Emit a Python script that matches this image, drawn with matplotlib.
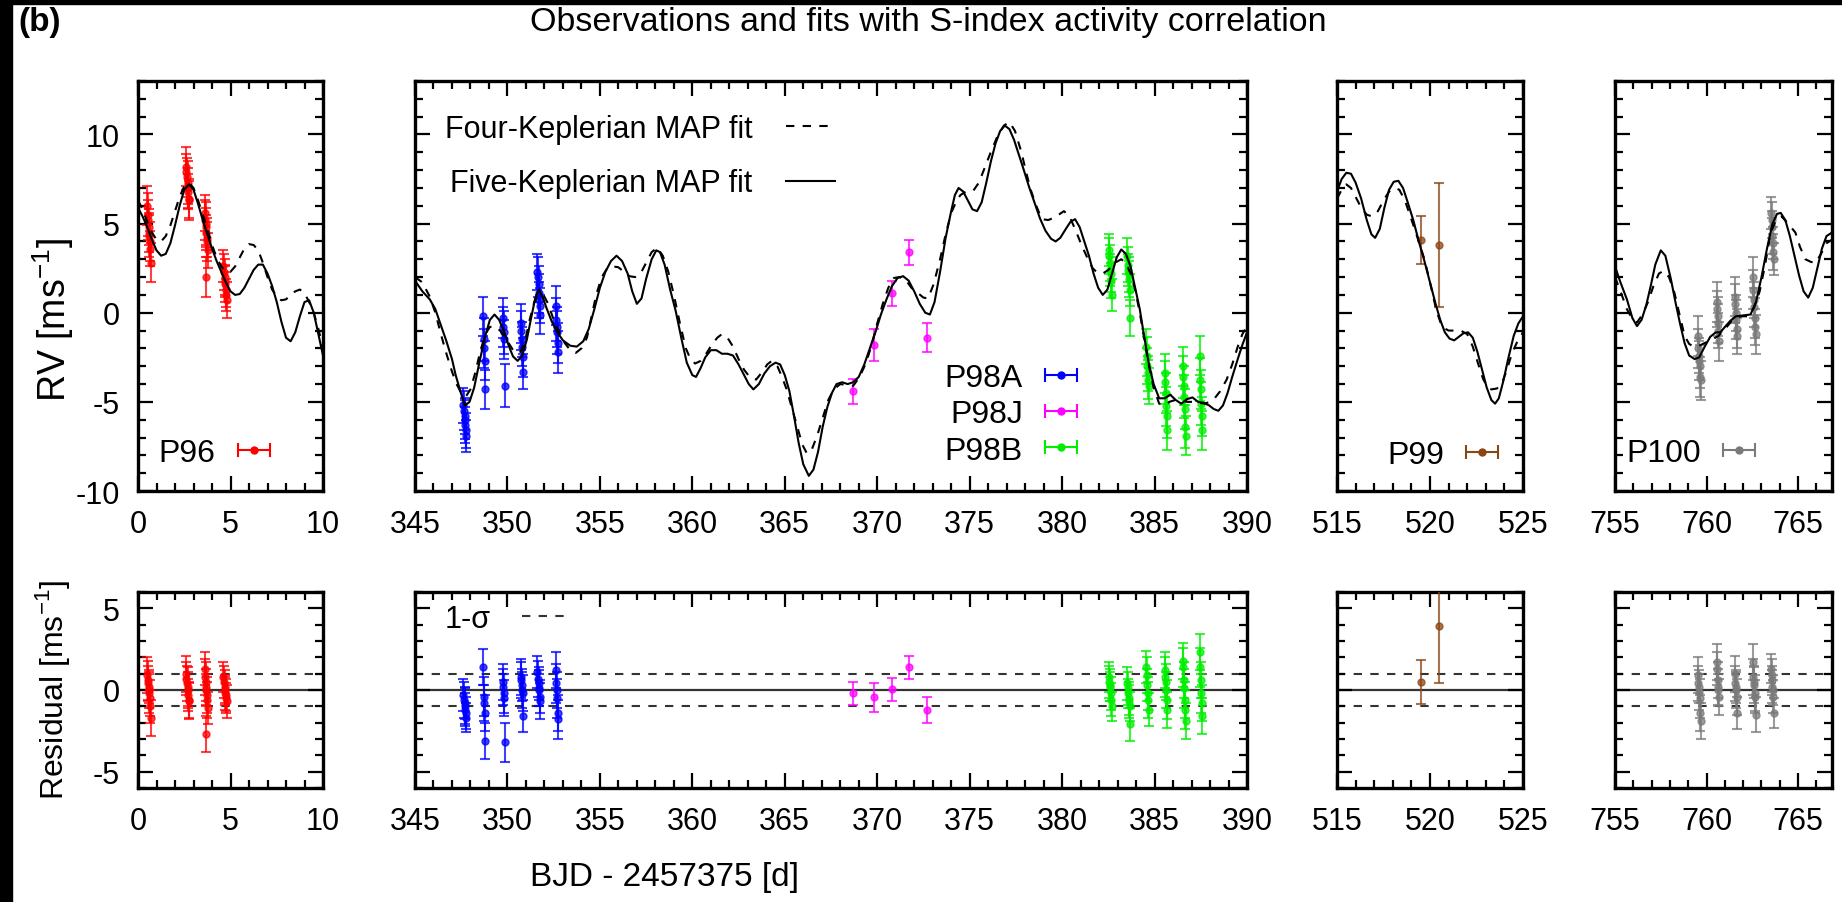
import numpy as np
import matplotlib.pyplot as plt
from matplotlib.ticker import MultipleLocator

# ---- data ----
# P96 (red)
p96_t = [0.50, 0.52, 0.55, 0.57, 0.60, 0.62, 0.64, 0.66, 0.68,
         2.60, 2.62, 2.65, 2.68, 2.70, 2.72, 2.75, 2.78,
         3.62, 3.64, 3.66, 3.68, 3.70, 3.72, 3.74, 3.76, 3.70,
         4.62, 4.65, 4.68, 4.70, 4.72, 4.75, 4.78, 4.80]
p96_rv = [6.0, 5.5, 5.2, 4.8, 4.5, 4.3, 4.0, 3.6, 2.8,
          8.2, 7.9, 7.6, 7.3, 7.0, 6.8, 6.4, 6.3,
          5.6, 5.2, 5.0, 4.8, 4.5, 4.2, 4.0, 3.5, 2.0,
          2.6, 2.3, 2.0, 1.8, 1.6, 1.3, 1.0, 0.7]
p96_err = [1.1, 1.2, 1.1, 1.0, 1.1, 1.2, 1.1, 1.0, 1.1,
           1.1, 1.0, 1.1, 1.2, 1.1, 1.0, 1.1, 1.1,
           1.0, 1.1, 1.2, 1.1, 1.0, 1.1, 1.1, 1.0, 1.1,
           0.9, 1.0, 1.0, 0.9, 1.0, 1.0, 0.9, 1.0]
p96_res = [0.9, 0.6, 0.4, 0.2, 0.0, -0.2, -0.5, -1.0, -1.7,
           1.0, 0.7, 0.4, 0.2, 0.0, -0.3, -0.6, -0.7,
           1.3, 0.8, 0.5, 0.2, 0.0, -0.3, -0.6, -1.1, -2.7,
           0.8, 0.5, 0.2, 0.0, -0.2, -0.3, -0.5, -0.7]

# P98A (blue)
p98a_t = [347.62, 347.65, 347.68, 347.70, 347.72, 347.75, 347.78,
          348.70, 348.72, 348.75, 348.78, 348.80,
          349.75, 349.78, 349.80, 349.82, 349.85,
          350.72, 350.75, 350.78, 350.80, 350.82, 350.85,
          351.62, 351.65, 351.68, 351.70, 351.72, 351.75, 351.78,
          352.62, 352.65, 352.68, 352.70, 352.72, 352.75]
p98a_rv = [-5.2, -5.5, -5.8, -6.0, -6.3, -6.6, -6.9,
           -0.2, -1.5, -2.0, -2.7, -4.3,
           -0.3, -0.8, -1.1, -1.5, -4.1,
           -0.6, -1.0, -1.5, -1.9, -2.5, -3.3,
           2.3, 2.0, 1.6, 1.1, 0.7, 0.4, -0.1,
           0.4, -0.4, -0.8, -1.1, -1.7, -2.2]
p98a_err = [1.0, 1.1, 1.0, 1.1, 1.0, 1.0, 0.9,
            1.1, 1.2, 1.1, 1.1, 1.1,
            1.1, 1.1, 1.2, 1.1, 1.2,
            1.1, 1.1, 1.0, 1.1, 1.1, 1.0,
            1.0, 1.1, 1.0, 1.1, 1.0, 1.0, 1.1,
            1.1, 1.2, 1.1, 1.2, 1.1, 1.2]
p98a_res = [-0.3, -0.6, -0.8, -1.0, -1.2, -1.4, -1.7,
            1.4, -0.4, -0.8, -1.4, -3.1,
            0.5, 0.2, -0.2, -0.5, -3.2,
            0.8, 0.6, 0.3, 0.0, -0.2, -1.6,
            1.1, 0.7, 0.4, 0.1, 0.0, -0.4, -0.7,
            1.2, 0.4, 0.0, -0.5, -1.4, -1.8]

# P98J (magenta)
p98j_t = [368.7, 369.8, 370.8, 371.7, 372.7]
p98j_rv = [-4.4, -1.8, 1.1, 3.4, -1.4]
p98j_err = [0.7, 0.9, 0.7, 0.7, 0.8]
p98j_res = [-0.2, -0.45, 0.05, 1.4, -1.2]

# P98B (green)
p98b_t = [382.52, 382.55, 382.58, 382.60, 382.62, 382.65, 382.68,
          383.52, 383.55, 383.58, 383.60, 383.62, 383.65, 383.68,
          384.55, 384.58, 384.60, 384.62, 384.65, 384.68,
          385.55, 385.58, 385.60, 385.62, 385.65, 385.68,
          386.52, 386.55, 386.58, 386.60, 386.62, 386.65, 386.68,
          387.45, 387.48, 387.50, 387.52, 387.55, 387.58]
p98b_rv = [3.5, 3.2, 2.8, 2.4, 2.15, 1.8, 1.0,
           3.2, 2.7, 2.4, 2.15, 1.9, 1.3, -0.3,
           -1.9, -2.45, -3.0, -3.4, -3.75, -4.1,
           -3.4, -3.9, -4.5, -5.25, -5.8, -6.6,
           -3.0, -3.6, -4.1, -4.7, -5.4, -6.4, -6.9,
           -2.4, -3.75, -4.3, -5.1, -5.8, -6.6]
p98b_err = [0.9, 1.0, 1.0, 0.9, 1.0, 1.0, 0.9,
            1.0, 1.0, 0.9, 1.0, 1.0, 0.9, 1.0,
            1.0, 1.1, 1.0, 1.0, 1.1, 1.0,
            1.1, 1.2, 1.1, 1.1, 1.2, 1.1,
            1.1, 1.2, 1.1, 1.2, 1.1, 1.2, 1.1,
            1.1, 1.2, 1.1, 1.2, 1.1, 1.1]
p98b_res = [0.8, 0.5, 0.3, 0.2, -0.2, -0.6, -1.0,
            0.4, 0.1, -0.2, -0.5, -0.7, -1.0, -2.1,
            1.4, 0.9, 0.3, -0.2, -0.6, -1.2,
            1.2, 0.8, 0.5, 0.0, -0.6, -1.2,
            1.8, 1.4, 0.6, 0.1, -0.6, -1.2, -1.9,
            2.3, 1.4, 0.6, -0.2, -0.8, -1.6]

# P99 (brown)
p99_t = [519.5, 520.5]
p99_rv = [4.1, 3.8]
p99_err = [1.35, 3.5]
p99_res = [0.5, 3.9]

# P100 (grey)
p100_t = [759.52, 759.55, 759.58, 759.60, 759.62, 759.65, 759.68,
          760.55, 760.58, 760.60, 760.62, 760.65, 760.68,
          761.55, 761.58, 761.60, 761.62, 761.65, 761.68,
          762.52, 762.55, 762.58, 762.60, 762.62, 762.65, 762.68,
          763.52, 763.55, 763.58, 763.60, 763.62, 763.65, 763.68]
p100_rv = [-1.3, -2.0, -2.4, -2.7, -3.0, -3.6, -3.8,
           0.6, 0.2, -0.2, -0.6, -1.0, -1.6,
           0.9, 0.5, 0.0, -0.4, -0.9, -1.3,
           2.0, 1.3, 0.7, 0.3, -0.3, -0.8, -1.2,
           5.6, 5.2, 4.8, 4.3, 3.9, 3.4, 3.0]
p100_err = [1.1, 1.1, 1.0, 1.1, 1.2, 1.1, 1.1,
            1.1, 1.0, 1.1, 1.1, 1.0, 1.1,
            1.1, 1.1, 1.0, 1.1, 1.1, 1.0,
            1.1, 1.1, 1.0, 1.1, 1.1, 1.0, 1.1,
            0.9, 1.0, 0.9, 1.0, 0.9, 1.0, 0.9]
p100_res = [0.9, 0.4, 0.2, -0.1, -0.5, -1.4, -1.9,
            1.7, 1.3, 0.6, 0.2, 0.0, -0.4,
            1.0, 0.4, 0.2, 0.0, -0.4, -1.4,
            1.7, 0.8, 0.5, 0.3, -0.2, -0.4, -1.5,
            1.3, 0.9, 0.6, 0.2, 0.0, -0.4, -1.4]

# model curves (t, RV)
five_kep_p1 = [(0.0, 5.9), (0.25, 5.4), (0.5, 4.8), (0.75, 4.1), (1.0, 3.5), (1.25, 3.2), (1.5, 3.3),
               (1.75, 3.9), (2.0, 4.9), (2.25, 6.0), (2.5, 6.9), (2.75, 7.2), (3.0, 6.9), (3.25, 6.1),
               (3.5, 5.2), (3.75, 4.4), (4.0, 3.6), (4.25, 2.9), (4.5, 2.3), (4.75, 1.7), (5.0, 1.2),
               (5.25, 1.0), (5.5, 1.05), (5.75, 1.4), (6.0, 1.9), (6.25, 2.4), (6.5, 2.7), (6.75, 2.7),
               (7.0, 2.2), (7.25, 1.5), (7.5, 0.6), (7.75, -0.5), (8.0, -1.4), (8.25, -1.6), (8.5, -1.1),
               (8.75, -0.2), (9.0, 0.6), (9.25, 0.7), (9.5, 0.0), (9.75, -1.2), (10.0, -2.4)]
four_kep_p1 = [(0.0, 6.3), (0.25, 5.8), (0.5, 5.1), (0.75, 4.5), (1.0, 4.1), (1.25, 4.0), (1.5, 4.3),
               (1.75, 4.9), (2.0, 5.7), (2.25, 6.5), (2.5, 7.1), (2.75, 7.3), (3.0, 7.0), (3.25, 6.3),
               (3.5, 5.5), (3.75, 4.7), (4.0, 3.8), (4.25, 3.1), (4.5, 2.6), (4.75, 2.3), (5.0, 2.3),
               (5.25, 2.6), (5.5, 3.1), (5.75, 3.6), (6.0, 3.85), (6.25, 3.8), (6.5, 3.5), (6.75, 2.8),
               (7.0, 2.0), (7.25, 1.3), (7.5, 0.9), (7.75, 0.7), (8.0, 0.75), (8.25, 1.0), (8.5, 1.2),
               (8.75, 1.3), (9.0, 1.1), (9.25, 0.6), (9.5, 0.0), (9.75, -0.9), (10.0, -2.0)]

five_kep_p2 = [(345.0, 1.8), (345.4, 1.2), (345.8, 0.75), (346.1, 0.2), (346.4, -0.7), (346.7, -1.6),
               (347.0, -2.6), (347.2, -3.5), (347.45, -4.4), (347.7, -5.2), (347.95, -5.0), (348.2, -4.2),
               (348.5, -2.7), (348.8, -1.3), (349.05, -0.4), (349.3, -0.1), (349.55, -0.4), (349.8, -1.0),
               (350.05, -1.8), (350.3, -2.45), (350.55, -2.7), (350.8, -2.4), (351.05, -1.5), (351.3, -0.2),
               (351.5, 0.8), (351.7, 1.3), (351.9, 0.9), (352.1, 0.3), (352.4, -0.5), (352.7, -1.1),
               (353.0, -1.55), (353.4, -1.85), (353.75, -1.9), (354.1, -1.6), (354.4, -0.9), (354.7, 0.2),
               (355.0, 1.4), (355.3, 2.3), (355.6, 2.9), (355.9, 3.2), (356.2, 2.9), (356.5, 2.2),
               (356.75, 1.2), (357.0, 0.5), (357.25, 0.8), (357.5, 1.9), (357.8, 3.0), (358.05, 3.5),
               (358.25, 3.4), (358.5, 2.7), (358.8, 1.3), (359.1, 0.1), (359.4, -1.4), (359.7, -2.8),
               (360.0, -3.5), (360.2, -3.6), (360.45, -3.1), (360.7, -2.5), (361.0, -2.1), (361.3, -2.1),
               (361.6, -2.3), (361.9, -2.3), (362.2, -2.4), (362.5, -2.9), (362.8, -3.5), (363.05, -4.0),
               (363.3, -4.3), (363.6, -4.0), (363.9, -3.4), (364.2, -3.0), (364.5, -2.8), (364.75, -2.9),
               (365.0, -3.5), (365.25, -4.4), (365.5, -5.8), (365.75, -7.3), (366.0, -8.5), (366.3, -9.15),
               (366.55, -8.8), (366.8, -7.8), (367.05, -6.4), (367.3, -5.3), (367.55, -4.5), (367.8, -4.0),
               (368.1, -3.9), (368.4, -4.0), (368.7, -3.9), (369.0, -3.6), (369.3, -2.9), (369.6, -2.0),
               (369.9, -1.1), (370.2, -0.1), (370.5, 0.75), (370.8, 1.5), (371.1, 1.95), (371.4, 2.05),
               (371.7, 1.8), (372.0, 1.2), (372.3, 0.5), (372.6, 0.0), (372.85, -0.1), (373.1, 0.6),
               (373.4, 2.3), (373.7, 4.2), (374.0, 5.7), (374.2, 6.6), (374.4, 7.0), (374.65, 6.8),
               (374.9, 6.3), (375.15, 5.8), (375.4, 5.7), (375.65, 6.2), (375.9, 7.3), (376.15, 8.5),
               (376.4, 9.5), (376.65, 10.2), (376.9, 10.5), (377.15, 10.3), (377.4, 9.7), (377.65, 8.9),
               (377.9, 8.1), (378.2, 7.1), (378.5, 6.2), (378.8, 5.3), (379.1, 4.6), (379.4, 4.15),
               (379.65, 4.0), (379.9, 4.2), (380.2, 4.7), (380.45, 5.1), (380.7, 5.25), (380.95, 4.8),
               (381.2, 4.0), (381.45, 3.2), (381.7, 2.2), (381.95, 1.4), (382.2, 1.0), (382.45, 1.3),
               (382.7, 2.2), (382.95, 3.1), (383.2, 3.55), (383.45, 3.3), (383.7, 2.6), (383.95, 1.4),
               (384.2, 0.2), (384.45, -1.4), (384.7, -2.9), (384.95, -4.0), (385.25, -4.8), (385.55, -4.8),
               (385.85, -4.6), (386.15, -4.9), (386.45, -5.1), (386.75, -4.85), (387.05, -4.75),
               (387.35, -5.0), (387.65, -5.05), (387.95, -5.2), (388.2, -5.4), (388.45, -5.5),
               (388.7, -5.2), (388.95, -4.5), (389.2, -3.6), (389.5, -2.6), (389.75, -1.8), (390.0, -1.1)]
four_kep_p2 = [(345.0, 2.0), (345.4, 1.7), (345.8, 0.9), (346.1, 0.0), (346.4, -1.2), (346.7, -2.3),
               (347.0, -3.3), (347.25, -4.0), (347.5, -4.5), (347.75, -4.7), (348.0, -4.3), (348.25, -3.4),
               (348.5, -2.3), (348.8, -1.2), (349.05, -0.8), (349.3, -0.75), (349.6, -1.0), (350.0, -1.6),
               (350.4, -2.25), (350.7, -2.2), (350.95, -1.6), (351.2, -0.4), (351.45, 0.6), (351.7, 1.0),
               (351.95, 1.0), (352.2, 0.5), (352.5, -0.4), (352.8, -1.1), (353.1, -1.7), (353.4, -2.1),
               (353.7, -2.25), (354.0, -2.0), (354.3, -1.4), (354.55, -0.2), (354.8, 1.0), (355.1, 2.0),
               (355.4, 2.5), (355.7, 2.6), (356.0, 2.55), (356.3, 2.3), (356.6, 2.05), (356.9, 2.0),
               (357.2, 2.2), (357.5, 2.8), (357.8, 3.4), (358.1, 3.65), (358.4, 3.2), (358.7, 2.3),
               (359.0, 1.0), (359.35, -0.7), (359.65, -2.0), (359.9, -2.6), (360.15, -2.85), (360.45, -2.7),
               (360.75, -2.3), (361.05, -1.8), (361.35, -1.4), (361.6, -1.2), (361.9, -1.4), (362.2, -1.9),
               (362.5, -2.6), (362.8, -3.2), (363.1, -3.6), (363.45, -3.75), (363.8, -3.3), (364.05, -2.9),
               (364.3, -2.7), (364.6, -3.0), (364.85, -3.6), (365.1, -4.3), (365.4, -5.4), (365.7, -6.5),
               (365.95, -7.4), (366.2, -7.9), (366.45, -7.7), (366.75, -6.9), (367.05, -5.9), (367.35, -4.9),
               (367.65, -4.3), (368.0, -4.0), (368.3, -4.05), (368.7, -4.1), (369.05, -3.6), (369.4, -2.8),
               (369.7, -1.8), (370.0, -0.6), (370.3, 0.5), (370.6, 1.4), (370.9, 1.95), (371.2, 2.0),
               (371.5, 1.9), (371.85, 1.4), (372.2, 1.1), (372.5, 0.85), (372.75, 0.8), (373.05, 1.6),
               (373.4, 3.0), (373.7, 4.4), (374.0, 5.6), (374.3, 6.3), (374.5, 6.6), (374.8, 6.8),
               (375.2, 6.85), (375.5, 7.3), (375.8, 8.1), (376.1, 8.9), (376.5, 9.9), (376.85, 10.5),
               (377.15, 10.7), (377.45, 10.2), (377.8, 9.0), (378.05, 7.9), (378.3, 6.9), (378.6, 6.0),
               (378.9, 5.25), (379.25, 5.2), (379.6, 5.35), (380.1, 5.7), (380.4, 5.4), (380.7, 4.7),
               (381.05, 3.8), (381.4, 3.0), (381.65, 2.5), (381.9, 2.25), (382.2, 2.2), (382.5, 2.4),
               (382.85, 2.8), (383.2, 3.0), (383.45, 2.8), (383.7, 2.2), (383.95, 1.3), (384.2, 0.0),
               (384.45, -1.5), (384.7, -3.0), (384.95, -4.2), (385.25, -5.1), (385.5, -5.2), (385.8, -5.0),
               (386.1, -4.9), (386.4, -4.9), (386.75, -5.0), (387.05, -5.0), (387.4, -5.05), (387.7, -5.1),
               (388.0, -5.0), (388.25, -4.8), (388.55, -4.4), (388.9, -3.75), (389.2, -2.9), (389.5, -1.9),
               (389.75, -1.2), (390.0, -0.75)]

five_kep_p3 = [(515.0, 6.8), (515.25, 7.5), (515.5, 7.85), (515.75, 7.8), (516.0, 7.3), (516.3, 6.4),
               (516.6, 5.2), (516.85, 4.4), (517.05, 4.2), (517.3, 4.7), (517.55, 5.9), (517.8, 6.9),
               (518.05, 7.35), (518.3, 7.4), (518.55, 7.0), (518.8, 6.2), (519.1, 5.2), (519.4, 4.0),
               (519.7, 2.9), (520.0, 1.7), (520.3, 0.5), (520.55, -0.4), (520.8, -1.1), (521.05, -1.45),
               (521.3, -1.55), (521.55, -1.35), (521.8, -1.15), (522.05, -1.1), (522.3, -1.4), (522.55, -2.2),
               (522.8, -3.2), (523.05, -4.2), (523.3, -4.9), (523.5, -5.1), (523.7, -4.8), (523.95, -3.8),
               (524.2, -2.6), (524.5, -1.3), (524.75, -0.6), (525.0, -0.2)]
four_kep_p3 = [(515.0, 6.4), (515.25, 6.9), (515.5, 7.2), (515.75, 7.0), (516.0, 6.5), (516.3, 5.9),
               (516.6, 5.5), (516.9, 5.4), (517.2, 5.7), (517.5, 6.3), (517.8, 6.8), (518.1, 7.0),
               (518.35, 6.9), (518.65, 6.3), (518.95, 5.4), (519.3, 4.3), (519.7, 3.0), (520.0, 1.7),
               (520.35, 0.1), (520.65, -0.8), (521.0, -1.0), (521.35, -1.0), (521.65, -1.0), (522.0, -1.2),
               (522.3, -1.9), (522.6, -2.9), (522.85, -3.7), (523.1, -4.2), (523.3, -4.3), (523.6, -4.25),
               (523.85, -4.0), (524.1, -3.3), (524.4, -2.3), (524.7, -1.6), (525.0, -1.1)]

five_kep_p4 = [(755.0, 2.6), (755.3, 1.7), (755.65, 0.75), (755.95, -0.3), (756.2, -0.75), (756.45, -0.4),
               (756.7, 0.4), (756.95, 1.5), (757.2, 2.7), (757.5, 3.5), (757.75, 3.2), (758.05, 1.9),
               (758.3, 0.6), (758.55, -0.6), (758.8, -1.7), (759.05, -2.4), (759.35, -2.6), (759.6, -2.5),
               (759.9, -1.9), (760.2, -1.35), (760.5, -1.1), (760.75, -1.1), (761.0, -0.8), (761.3, -0.45),
               (761.6, -0.2), (762.0, -0.15), (762.4, -0.1), (762.7, 0.6), (763.0, 2.0), (763.3, 3.6),
               (763.6, 5.0), (763.85, 5.55), (764.05, 5.6), (764.3, 5.2), (764.55, 4.3), (764.8, 3.2),
               (765.05, 2.1), (765.3, 1.2), (765.55, 0.85), (765.8, 1.4), (766.05, 2.5), (766.3, 3.6),
               (766.55, 4.3), (766.85, 4.5)]
four_kep_p4 = [(755.0, 2.0), (755.3, 1.2), (755.65, 0.2), (755.95, -0.35), (756.2, -0.55), (756.5, -0.1),
               (756.8, 0.6), (757.1, 1.5), (757.4, 2.2), (757.65, 2.35), (757.95, 2.0), (758.25, 1.1),
               (758.5, 0.0), (758.8, -1.3), (759.05, -1.75), (759.3, -1.9), (759.6, -1.85), (759.9, -1.7),
               (760.3, -1.5), (760.65, -1.3), (761.1, -0.8), (761.5, -0.3), (761.9, -0.2), (762.3, -0.2),
               (762.6, 0.3), (762.9, 1.2), (763.2, 2.7), (763.5, 4.5), (763.8, 5.2), (764.1, 5.4),
               (764.45, 5.0), (764.85, 4.5), (765.1, 3.7), (765.4, 3.0), (765.7, 2.85), (765.95, 2.8),
               (766.25, 3.3), (766.55, 3.9), (766.85, 4.1)]

# ---- figure ----
plt.rcParams['font.family'] = ['Liberation Sans', 'DejaVu Sans']
plt.rcParams['axes.unicode_minus'] = False
plt.rcParams['mathtext.fontset'] = 'custom'
plt.rcParams['mathtext.rm'] = 'Liberation Sans'

W, H = 1842, 903
fig = plt.figure(figsize=(W / 100, H / 100), dpi=100)

# black scan border on the left and top
fig.patches.append(plt.Rectangle((0, 0), 12 / W, 1, transform=fig.transFigure, color='black', zorder=0))
fig.patches.append(plt.Rectangle((0, 1 - 5 / H), 1, 5 / H, transform=fig.transFigure, color='black', zorder=0))


def add_px_axes(x0, x1, y0, y1):
    return fig.add_axes([x0 / W, 1 - y1 / H, (x1 - x0) / W, (y1 - y0) / H])


def style_axe(ax, show_ylabels):
    for s in ax.spines.values():
        s.set_linewidth(2.4)
    ax.xaxis.set_major_locator(MultipleLocator(5))
    ax.xaxis.set_minor_locator(MultipleLocator(1))
    ax.yaxis.set_major_locator(MultipleLocator(5))
    ax.yaxis.set_minor_locator(MultipleLocator(1))
    ax.tick_params(which='both', direction='in', top=True, right=True, labelsize=22, pad=13)
    ax.tick_params(which='major', length=11, width=1.6)
    ax.tick_params(which='minor', length=6, width=1.6)
    if not show_ylabels:
        ax.tick_params(labelleft=False)


columns = [(138, 323, (0, 10)), (415, 1247, (345, 390)),
           (1337, 1523, (515, 525)), (1615, 1832, (755, 766.85))]
top_axes, bot_axes = [], []
for i, (x0, x1, xl) in enumerate(columns):
    at = add_px_axes(x0, x1, 82, 492)
    ab = add_px_axes(x0, x1, 593, 789)
    at.set_xlim(xl)
    ab.set_xlim(xl)
    at.set_ylim(-10, 13)
    ab.set_ylim(-6, 6)
    style_axe(at, i == 0)
    style_axe(ab, i == 0)
    top_axes.append(at)
    bot_axes.append(ab)

# model curves
curves = [(five_kep_p1, four_kep_p1), (five_kep_p2, four_kep_p2),
          (five_kep_p3, four_kep_p3), (five_kep_p4, four_kep_p4)]
fit_lines = None
for ax, (five, four) in zip(top_axes, curves):
    f5 = np.array(five)
    f4 = np.array(four)
    l4, = ax.plot(f4[:, 0], f4[:, 1], color='black', lw=1.5, ls=(0, (4, 4)), zorder=4)
    l5, = ax.plot(f5[:, 0], f5[:, 1], color='black', lw=1.5, zorder=5)
    if fit_lines is None:
        fit_lines = (l4, l5)

# observations and residuals
sets = [
    ('P96', 0, p96_t, p96_rv, p96_err, p96_res, '#ff0000'),
    ('P98A', 1, p98a_t, p98a_rv, p98a_err, p98a_res, '#0000ff'),
    ('P98J', 1, p98j_t, p98j_rv, p98j_err, p98j_res, '#ff00ff'),
    ('P98B', 1, p98b_t, p98b_rv, p98b_err, p98b_res, '#00ee00'),
    ('P99', 2, p99_t, p99_rv, p99_err, p99_res, '#8b4513'),
    ('P100', 3, p100_t, p100_rv, p100_err, p100_res, '#7a7a7a'),
]
proxies = {}
for name, col, t, rv, err, res, c in sets:
    kw = dict(fmt='o', color=c, ms=5, elinewidth=1.5, capsize=3.5, capthick=1.5, alpha=0.75, zorder=3)
    top_axes[col].errorbar(t, rv, yerr=err, **kw)
    bot_axes[col].errorbar(t, res, yerr=err, **kw)
    proxies[name] = top_axes[col].errorbar([np.nan], [np.nan], xerr=[1], fmt='o', color=c, ms=5,
                                           elinewidth=1.5, capsize=5, capthick=1.5)

# residual reference lines
sigma_line = None
for ab in bot_axes:
    ab.axhline(0, color='#333333', lw=1.6, zorder=1)
    sigma_line = ab.axhline(1, color='#333333', lw=1.5, ls=(0, (4, 4)), zorder=1)
    ab.axhline(-1, color='#333333', lw=1.5, ls=(0, (4, 4)), zorder=1)

# legends
leg_kw = dict(frameon=False, markerfirst=False, borderpad=0, borderaxespad=0)
leg_fit = top_axes[1].legend(fit_lines, ['Four-Keplerian MAP fit', 'Five-Keplerian MAP fit'],
                             loc='upper left', bbox_to_anchor=(0.036, 0.92), handlelength=1.6,
                             handletextpad=1.1, labelspacing=0.8, fontsize=22, **leg_kw)
top_axes[1].add_artist(leg_fit)
top_axes[1].legend([proxies['P98A'], proxies['P98J'], proxies['P98B']], ['P98A', 'P98J', 'P98B'],
                   loc='lower right', bbox_to_anchor=(0.80, 0.062), handlelength=1.2,
                   handletextpad=0.6, labelspacing=0.2, fontsize=23, **leg_kw)
for ax, name, anchor in [(top_axes[0], 'P96', (0.73, 0.055)), (top_axes[2], 'P99', (0.885, 0.05)),
                         (top_axes[3], 'P100', (0.66, 0.055))]:
    ax.legend([proxies[name]], [name], loc='lower right', bbox_to_anchor=anchor, handlelength=1.2,
              handletextpad=0.6, fontsize=23, **leg_kw)
bot_axes[1].legend([sigma_line], ['1-σ'], loc='upper left', bbox_to_anchor=(0.036, 0.94),
                   handlelength=1.6, handletextpad=1.0, fontsize=22, **leg_kw)

# labels and title
fig.text(928 / W, 1 - 22 / H, 'Observations and fits with S-index activity correlation',
         ha='center', va='center', fontsize=24.5)
fig.text(40 / W, 1 - 22 / H, '(b)', ha='center', va='center', fontsize=24, fontweight='bold')
fig.text(53 / W, 1 - 320 / H, 'RV [ms$^{-1}$]', rotation=90, ha='center', va='center', fontsize=27)
fig.text(53 / W, 1 - 690 / H, 'Residual [ms$^{-1}$]', rotation=90, ha='center', va='center', fontsize=23)
fig.text(664 / W, 1 - 878 / H, 'BJD - 2457375 [d]', ha='center', va='center', fontsize=24)

fig.savefig('out.png', dpi=100)
